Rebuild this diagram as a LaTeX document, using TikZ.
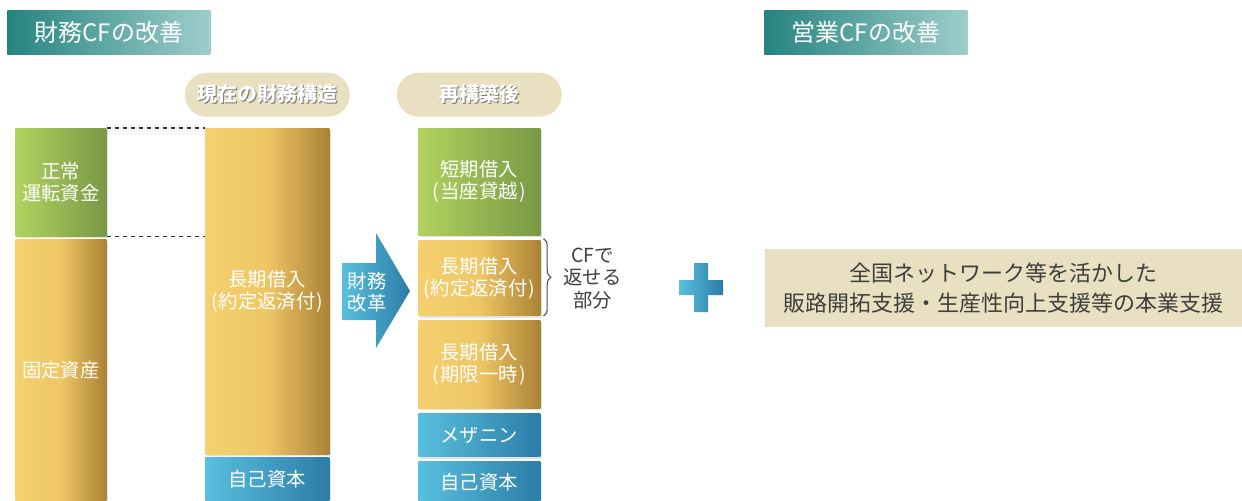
\documentclass[tikz,border=0pt]{standalone}
\usepackage{fontspec}
\setmainfont{Noto Sans CJK JP}
\usetikzlibrary{positioning,shadows,decorations.pathreplacing}

\definecolor{leafA}{RGB}{178,211,94}
\definecolor{leafB}{RGB}{120,152,70}
\definecolor{goldA}{RGB}{246,208,112}
\definecolor{goldM}{RGB}{238,198,100}
\definecolor{goldB}{RGB}{172,130,54}
\definecolor{skyA}{RGB}{88,192,222}
\definecolor{skyB}{RGB}{44,124,168}
\definecolor{tealA}{RGB}{37,132,127}
\definecolor{tealB}{RGB}{158,205,203}
\definecolor{sand}{RGB}{232,224,193}
\definecolor{ink}{RGB}{62,62,62}

\pgfdeclarehorizontalshading{leafshade}{100bp}{color(0bp)=(leafA); color(25bp)=(leafA); color(75bp)=(leafB); color(100bp)=(leafB)}
\pgfdeclarehorizontalshading{goldshade}{100bp}{color(0bp)=(goldA); color(25bp)=(goldA); color(50bp)=(goldM); color(75bp)=(goldB); color(100bp)=(goldB)}
\pgfdeclarehorizontalshading{skyshade}{100bp}{color(0bp)=(skyA); color(25bp)=(skyA); color(75bp)=(skyB); color(100bp)=(skyB)}
\pgfdeclarehorizontalshading{tealshade}{100bp}{color(0bp)=(tealA); color(25bp)=(tealA); color(75bp)=(tealB); color(100bp)=(tealB)}

\newcommand{\engraved}[1]{\makebox[0pt][l]{\kern0.9pt\raisebox{-0.9pt}{\textcolor{black!55}{#1}}}\textcolor{white}{#1}}
\newcommand{\paren}[1]{(\kern1pt#1\kern1pt)}

\begin{document}
\begin{tikzpicture}[x=0.75pt, y=-0.75pt,
	every node/.style={inner sep=0pt},
	block/.style={shade, text=white, align=center, font=\fontsize{14.5}{16.5}\selectfont,
		drop shadow={opacity=0.22, shadow xshift=1.5pt, shadow yshift=-1.5pt}},
	leaf/.style={block, shading=leafshade},
	gold/.style={block, shading=goldshade},
	sky/.style={block, shading=skyshade},
	leftcol/.style={minimum width=68.25pt},
	midcol/.style={minimum width=93pt},
	rightcol/.style={minimum width=91.5pt},
	heading/.style={shade, shading=tealshade, minimum width=152.25pt, minimum height=33pt, text=white, font=\fontsize{18}{20}\selectfont},
	pill/.style={fill=sand, rounded corners=16.5pt, minimum width=123.75pt, minimum height=33pt, font=\bfseries\fontsize{15}{17}\selectfont},
	gap/.style={dash pattern=on 3pt off 3pt, line width=0.9pt, black!80}]
	\useasboundingbox (0,0) rectangle (1242,500);

	% headings
	\node (fintitle) [heading, anchor=north west] at (7,10) {財務CFの改善};
	\node (optitle) [heading, anchor=north west] at (764,10) {営業CFの改善};

	% assets
	\node (wc) [leaf, leftcol, minimum height=81pt, anchor=north west] at (15,128) {正常\\運転資金};
	\node (fixed) [gold, leftcol, minimum height=195.75pt, below=2.25pt of wc] {固定資産};

	% current structure
	\node (ltd) [gold, midcol, minimum height=244.5pt, anchor=north west] at (205,128) {長期借入\\\paren{約定返済付}};
	\node (eq) [sky, midcol, minimum height=32.25pt, below=2.25pt of ltd] {自己資本};
	\node (now) [pill, above=8.25pt of ltd] {\engraved{現在の財務構造}};

	% after restructuring
	\node (st) [leaf, rightcol, minimum height=80.25pt, anchor=north west] at (418,128) {短期借入\\\paren{当座貸越}};
	\node (ltda) [gold, rightcol, minimum height=56.25pt, below=3.75pt of st] {長期借入\\\paren{約定返済付}};
	\node (ltdb) [gold, rightcol, minimum height=66pt, below=3pt of ltda] {長期借入\\\paren{期限一時}};
	\node (mez) [sky, rightcol, minimum height=32.25pt, below=3.75pt of ltdb] {メザニン};
	\node (eqb) [sky, rightcol, minimum height=30.75pt, below=3pt of mez] {自己資本};
	\node (after) [pill, above=8.25pt of st] {\engraved{再構築後}};

	\draw[gap] (wc.north east) -- (wc.north east -| ltd.west);
	\draw[gap] (wc.south east) -- (wc.south east -| ltd.west);

	% reform arrow
	\shade[left color=skyA, right color=skyB] (342,263) -- (376,263) -- (376,233) -- (410,291)
		-- (376,348) -- (376,320) -- (342,320) -- cycle;
	\node (reform) [text=white, align=center, font=\fontsize{14.5}{16.5}\selectfont] at (367,292) {財務\\改革};

	\draw[decorate, decoration={brace, amplitude=5.5pt}, black!70, line width=0.8pt]
		([xshift=2.25pt, yshift=1.5pt]ltda.north east) -- ([xshift=2.25pt]ltda.south east);
	\node (cfpart) [right=17pt of ltda, text=ink, align=center, font=\fontsize{14.5}{17}\selectfont] {CFで\\返せる\\部分};

	% plus
	\shade[left color=skyA, right color=skyB] (694,263) -- (708,263) -- (708,280) -- (723,280) -- (723,295)
		-- (708,295) -- (708,312) -- (694,312) -- (694,295) -- (679,295) -- (679,280) -- (694,280) -- cycle;

	\node (mainbiz) [fill=sand, minimum width=357.75pt, minimum height=58.5pt, anchor=west, text=ink, align=center,
		font=\fontsize{16.5}{23}\selectfont] at (765,288) {全国ネットワーク等を活かした\\販路開拓支援・生産性向上支援等の本業支援};
\end{tikzpicture}
\end{document}
